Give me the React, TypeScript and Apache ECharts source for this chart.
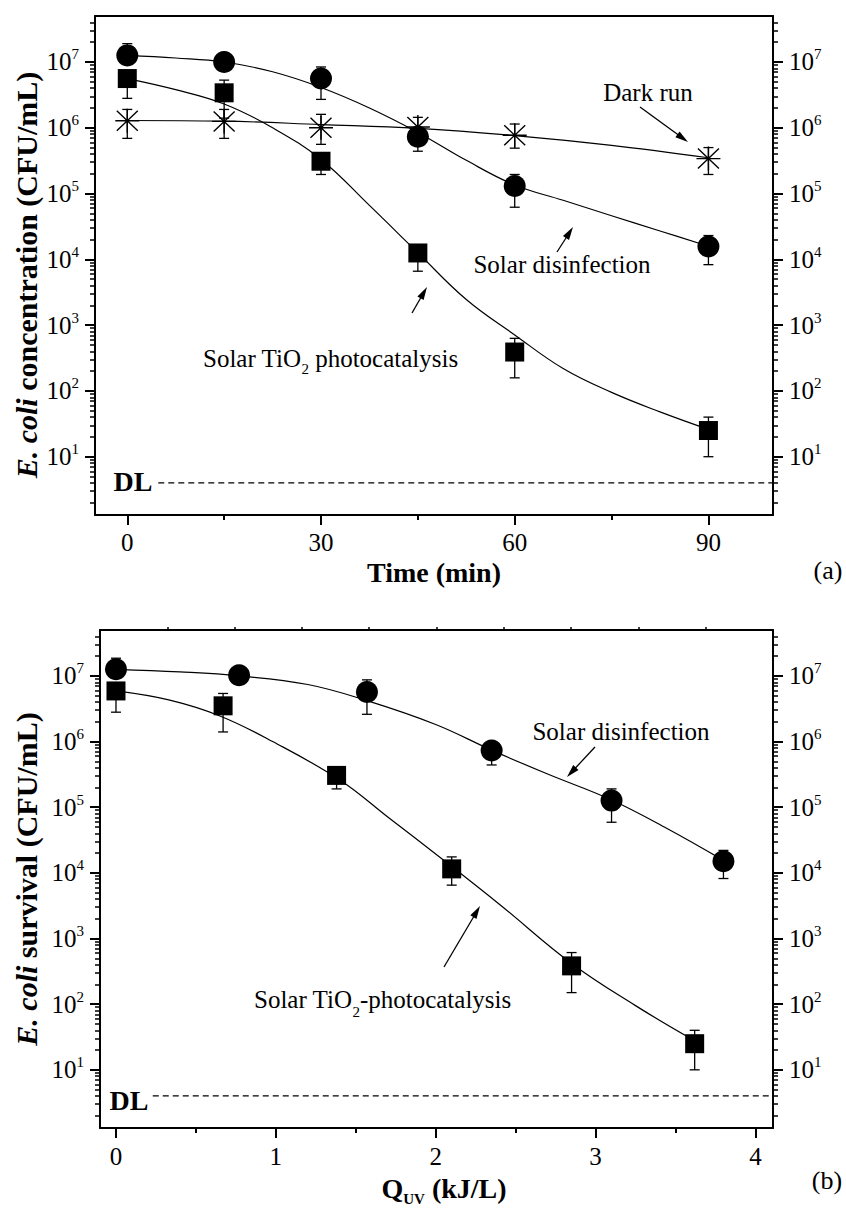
import React, { useEffect, useRef } from "react";
import * as echarts from "echarts";

// ---------- Panel (a): survival vs time ----------
const timeMin = [0, 15, 30, 45, 60, 90];
const sodisA = [1.26e7, 1.0e7, 5.6e6, 7.3e5, 1.3e5, 1.57e4];
const sodisAHi = [1.9e7, 1.1e7, 8.4e6, 8.5e5, 1.95e5, 2.3e4];
const sodisALo = [1.05e7, 0.9e7, 2.7e6, 4.4e5, 6.2e4, 8.3e3];
const photoA = [5.6e6, 3.4e6, 3.1e5, 1.25e4, 390, 25];
const photoAHi = [6.5e6, 5.3e6, 3.5e5, 1.6e4, 630, 40];
const photoALo = [2.8e6, 1.4e6, 1.95e5, 6.6e3, 158, 10];
const darkA = [1.28e6, 1.25e6, 1.0e6, 1.03e6, 7.7e5, 3.4e5];
const darkAHi = [1.9e6, 1.9e6, 1.6e6, 1.44e6, 1.14e6, 5.0e5];
const darkALo = [6.9e5, 6.9e5, 5.6e5, 7.5e5, 4.9e5, 1.95e5];

// fitted curves
const fitTimeA = [0, 7.5, 15, 22.5, 30, 37.5, 45, 52.5, 60, 67.5, 75, 82.5, 90];
const sodisFitA = [1.26e7, 1.15e7, 1.0e7, 7.1e6, 4.1e6, 2.0e6, 8.5e5, 3.2e5, 1.35e5, 7.9e4, 4.6e4, 2.7e4, 1.58e4];
const photoFitA = [5.6e6, 3.8e6, 2.3e6, 1.0e6, 3.3e5, 6.6e4, 1.26e4, 2.45e3, 710, 219, 95, 48, 26];
const darkFitTime = [0, 15, 30, 45, 60, 75, 90];
const darkFitA = [1.29e6, 1.26e6, 1.12e6, 9.8e5, 7.6e5, 5.4e5, 3.5e5];

// ---------- Panel (b): survival vs Q_UV ----------
const qSodis = [0, 0.77, 1.57, 2.35, 3.1, 3.8];
const sodisB = [1.26e7, 1.02e7, 5.7e6, 7.3e5, 1.26e5, 1.5e4];
const sodisBHi = [1.86e7, 1.1e7, 8.7e6, 8.5e5, 1.9e5, 2.2e4];
const sodisBLo = [1.1e7, 0.9e7, 2.6e6, 4.4e5, 5.9e4, 8.2e3];
const qPhoto = [0, 0.67, 1.38, 2.1, 2.85, 3.62];
const photoB = [5.9e6, 3.5e6, 3.05e5, 1.15e4, 383, 25];
const photoBHi = [6.8e6, 5.4e6, 3.4e5, 1.75e4, 611, 40];
const photoBLo = [2.8e6, 1.4e6, 1.9e5, 6.5e3, 150, 10];

const sodisFitQ = [0, 0.4, 0.77, 1.2, 1.57, 2.0, 2.35, 2.7, 3.1, 3.45, 3.8];
const sodisFitB = [1.26e7, 1.15e7, 1.0e7, 7.4e6, 4.2e6, 1.82e6, 7.4e5, 3.2e5, 1.29e5, 4.7e4, 1.55e4];
const photoFitQ = [0, 0.33, 0.65, 0.98, 1.4, 1.7, 2.03, 2.4, 2.85, 3.25, 3.6];
const photoFitB = [5.9e6, 4.3e6, 2.45e6, 1.0e6, 2.6e5, 7.1e4, 1.7e4, 3.3e3, 417, 95, 29.5];

// detection limit
const detectionLimit = 4;
const dlStartA = 4.8;
const dlStartB = 0.23;

// axis ranges / ticks
const yRangeMin = 1.3;
const yRangeMax = 5e7;
const decadeExps = [1, 2, 3, 4, 5, 6, 7];
const timeMajor = [0, 30, 60, 90];
const timeMinor = [15, 45, 75];
const qMajor = [0, 1, 2, 3, 4];
const qMinor = [0.5, 1.5, 2.5, 3.5];
const topTicksB = [1, 2, 3, 4, 5, 6, 7, 8, 9];

const FONT = "Liberation Serif, Times New Roman, serif";
const L = (v: number) => Math.log10(v);
const LOG_MIN = L(yRangeMin);
const LOG_MAX = L(yRangeMax);

const minorLogs: number[] = [];
for (let n = 0; n <= 7; n++) {
  for (let k = 2; k <= 9; k++) {
    const v = n + L(k);
    if (v > LOG_MIN && v < LOG_MAX) minorLogs.push(v);
  }
}

const pts = (xs: number[], ys: number[]) => xs.map((x, i) => [x, L(ys[i])]);
const errs = (xs: number[], lo: number[], hi: number[]) =>
  xs.map((x, i) => [x, L(lo[i]), L(hi[i])]);

const STAR = "path://M0,12L24,12M12,0L12,24M1.5,2L22.5,22M22.5,2L1.5,22";

function App() {
  const ref = useRef<HTMLDivElement>(null);

  useEffect(() => {
    if (!ref.current) return;
    const chart = echarts.init(ref.current, undefined, { renderer: "svg" });

    const black = "#000";
    const labelRich = {
      b: { fontSize: 25, fontFamily: FONT, color: black, lineHeight: 30 },
      s: { fontSize: 15, fontFamily: FONT, color: black, lineHeight: 15, verticalAlign: "top" },
    };

    const xAxisMajor = (grid: number, min: number, max: number, ticks: number[], margin: number) => ({
      type: "value", gridIndex: grid, position: "bottom", min, max,
      axisLine: { show: true, onZero: false, lineStyle: { color: black, width: 2 } },
      axisTick: { show: true, customValues: ticks, length: 10, lineStyle: { color: black, width: 2 } },
      axisLabel: { show: true, customValues: ticks, margin, fontSize: 25, fontFamily: FONT, color: black },
      splitLine: { show: false },
    });
    const xAxisMinor = (grid: number, min: number, max: number, ticks: number[]) => ({
      type: "value", gridIndex: grid, position: "bottom", min, max,
      axisLine: { show: false, onZero: false },
      axisTick: { show: true, customValues: ticks, length: 5, lineStyle: { color: black, width: 2 } },
      axisLabel: { show: false },
      splitLine: { show: false },
    });
    const xAxisTop = (grid: number, min: number, max: number, ticks: number[] | null) => ({
      type: "value", gridIndex: grid, position: "top", min, max,
      axisLine: { show: true, onZero: false, lineStyle: { color: black, width: 2 } },
      axisTick: ticks
        ? { show: true, customValues: ticks, length: 3, lineStyle: { color: black, width: 1.5 } }
        : { show: false },
      axisLabel: { show: false },
      splitLine: { show: false },
    });
    const yMajor = (grid: number, position: string) => ({
      type: "value", gridIndex: grid, position, min: LOG_MIN, max: LOG_MAX,
      axisLine: { show: true, onZero: false, lineStyle: { color: black, width: 2 } },
      axisTick: { show: true, customValues: decadeExps, length: 10, lineStyle: { color: black, width: 2 } },
      axisLabel: {
        show: true, customValues: decadeExps, margin: 16,
        formatter: (v: number) => `{b|10}{s|${Math.round(v)}}`,
        rich: labelRich,
      },
      splitLine: { show: false },
    });
    const yMinor = (grid: number, position: string) => ({
      type: "value", gridIndex: grid, position, min: LOG_MIN, max: LOG_MAX,
      axisLine: { show: false, onZero: false },
      axisTick: { show: true, customValues: minorLogs, length: 5, lineStyle: { color: black, width: 1.5 } },
      axisLabel: { show: false },
      splitLine: { show: false },
    });

    const errSeries = (xi: number, yi: number, data: number[][]) => ({
      type: "custom", xAxisIndex: xi, yAxisIndex: yi, z: 2, silent: true,
      encode: { x: 0, y: [1, 2] },
      data,
      renderItem: (params: any, api: any) => {
        const x = api.value(0);
        const lo = api.coord([x, api.value(1)]);
        const hi = api.coord([x, api.value(2)]);
        const cw = 5;
        const st = { stroke: black, lineWidth: 1.3 };
        return {
          type: "group",
          children: [
            { type: "line", shape: { x1: lo[0], y1: lo[1], x2: hi[0], y2: hi[1] }, style: st },
            { type: "line", shape: { x1: hi[0] - cw, y1: hi[1], x2: hi[0] + cw, y2: hi[1] }, style: st },
            { type: "line", shape: { x1: lo[0] - cw, y1: lo[1], x2: lo[0] + cw, y2: lo[1] }, style: st },
          ],
        };
      },
    });
    const fitSeries = (xi: number, yi: number, data: number[][]) => ({
      type: "line", xAxisIndex: xi, yAxisIndex: yi, z: 3, silent: true,
      data, smooth: 0.4, showSymbol: false, symbol: "none",
      lineStyle: { color: black, width: 1.2, opacity: 1 },
    });
    const markerSeries = (xi: number, yi: number, data: number[][], kind: string) => ({
      type: "scatter", xAxisIndex: xi, yAxisIndex: yi, z: 4, silent: true, data,
      symbol: kind === "star" ? STAR : kind,
      symbolSize: kind === "circle" ? 22 : kind === "rect" ? 19 : 24,
      itemStyle:
        kind === "star"
          ? { color: "transparent", borderColor: black, borderWidth: 1.4, opacity: 1 }
          : { color: black, borderWidth: 0, opacity: 1 },
    });
    const dlSeries = (xi: number, yi: number, x0: number, x1: number) => ({
      type: "line", xAxisIndex: xi, yAxisIndex: yi, z: 1, silent: true,
      data: [[x0, L(detectionLimit)], [x1, L(detectionLimit)]],
      showSymbol: false, symbol: "none",
      lineStyle: { color: black, width: 1.2, type: [6, 4], opacity: 1 },
    });

    const arrow = (x1: number, y1: number, x2: number, y2: number) => {
      const dx = x2 - x1, dy = y2 - y1;
      const len = Math.hypot(dx, dy);
      const ux = dx / len, uy = dy / len;
      const hl = 13, hw = 3.6;
      const bx = x2 - ux * hl, by = y2 - uy * hl;
      return [
        { type: "line", shape: { x1, y1, x2: bx + ux * 2, y2: by + uy * 2 }, style: { stroke: black, lineWidth: 1.3 } },
        {
          type: "polygon",
          shape: { points: [[x2, y2], [bx - uy * hw, by + ux * hw], [bx + uy * hw, by - ux * hw]] },
          style: { fill: black },
        },
      ];
    };
    const txt = (x: number, y: number, text: string, size: number, weight = "normal") => ({
      type: "text", x, y,
      style: {
        text, fontSize: size, fontFamily: FONT, fontWeight: weight, fill: black,
        align: "center", verticalAlign: "middle", textAlign: "center", textVerticalAlign: "middle",
      },
    });
    const richTxt = (x: number, y: number, text: string, rich: any, align = "center", vAlign = "middle", rotation = 0) => ({
      type: "text", x, y, rotation,
      style: {
        text, rich, fill: black, fontFamily: FONT,
        align, verticalAlign: vAlign, textAlign: align, textVerticalAlign: vAlign,
      },
    });

    const annRich = {
      n: { fontSize: 25, fontFamily: FONT, color: black, lineHeight: 25, verticalAlign: "top" },
      s: { fontSize: 15, fontFamily: FONT, color: black, lineHeight: 15, verticalAlign: "top", padding: [16, 0, 0, 0] },
    };
    const annRichB = {
      n: annRich.n,
      s: { ...annRich.s, padding: [18, 0, 0, 0] },
    };
    const yTitleRich = {
      i: { fontSize: 30, fontFamily: FONT, fontWeight: "bold", fontStyle: "italic", color: black },
      b: { fontSize: 30, fontFamily: FONT, fontWeight: "bold", color: black },
    };
    const qRich = {
      n: { fontSize: 28, fontFamily: FONT, fontWeight: "bold", color: black, lineHeight: 28, verticalAlign: "top" },
      s: { fontSize: 15, fontFamily: FONT, fontWeight: "bold", color: black, lineHeight: 14, verticalAlign: "top", padding: [17, 0, 0, 0] },
    };

    const option: any = {
      animation: false,
      backgroundColor: "#fff",
      textStyle: { fontFamily: FONT, color: black },
      grid: [
        { left: 95, top: 16, width: 678, height: 499, containLabel: false, outerBoundsMode: "none" },
        { left: 100, top: 630, width: 673, height: 498, containLabel: false, outerBoundsMode: "none" },
      ],
      xAxis: [
        xAxisMajor(0, -5, 100, timeMajor, 15),
        xAxisMinor(0, -5, 100, timeMinor),
        xAxisTop(0, -5, 100, null),
        xAxisMajor(1, -0.1, 4.11, qMajor, 16),
        xAxisMinor(1, -0.1, 4.11, qMinor),
        xAxisTop(1, 0, 10, topTicksB),
      ],
      yAxis: [
        yMajor(0, "left"),
        yMinor(0, "left"),
        yMajor(0, "right"),
        yMinor(0, "right"),
        yMajor(1, "left"),
        yMinor(1, "left"),
        yMajor(1, "right"),
        yMinor(1, "right"),
      ],
      series: [
        // panel (a)
        dlSeries(0, 0, dlStartA, 100),
        errSeries(0, 0, errs(timeMin, darkALo, darkAHi)),
        errSeries(0, 0, errs(timeMin, photoALo, photoAHi)),
        errSeries(0, 0, errs(timeMin, sodisALo, sodisAHi)),
        fitSeries(0, 0, pts(darkFitTime, darkFitA)),
        fitSeries(0, 0, pts(fitTimeA, photoFitA)),
        fitSeries(0, 0, pts(fitTimeA, sodisFitA)),
        markerSeries(0, 0, pts(timeMin, darkA), "star"),
        markerSeries(0, 0, pts(timeMin, photoA), "rect"),
        markerSeries(0, 0, pts(timeMin, sodisA), "circle"),
        // panel (b)
        dlSeries(3, 4, dlStartB, 4.11),
        errSeries(3, 4, errs(qPhoto, photoBLo, photoBHi)),
        errSeries(3, 4, errs(qSodis, sodisBLo, sodisBHi)),
        fitSeries(3, 4, pts(photoFitQ, photoFitB)),
        fitSeries(3, 4, pts(sodisFitQ, sodisFitB)),
        markerSeries(3, 4, pts(qPhoto, photoB), "rect"),
        markerSeries(3, 4, pts(qSodis, sodisB), "circle"),
      ],
      graphic: [
        // panel (a) texts
        richTxt(26, 275, "{i|E. coli }{b|concentration (CFU/mL)}", yTitleRich, "center", "middle", Math.PI / 2),
        txt(434, 572, "Time (min)", 28, "bold"),
        txt(828, 570, "(a)", 26),
        txt(133, 481, "DL", 28, "bold"),
        txt(648, 92, "Dark run", 25),
        ...arrow(640, 107, 688, 142),
        txt(562, 264, "Solar disinfection", 25),
        ...arrow(557, 252, 573, 227),
        richTxt(203, 358 - 12.5, "{n|Solar TiO}{s|2}{n| photocatalysis}", annRich, "left", "top"),
        ...arrow(412, 313, 427, 287),
        // panel (b) texts
        richTxt(26, 879, "{i|E. coli }{b|survival (CFU/mL)}", yTitleRich, "center", "middle", Math.PI / 2),
        richTxt(444, 1174, "{n|Q}{s|UV}{n| (kJ/L)}", qRich, "center", "top"),
        txt(827, 1180, "(b)", 26),
        txt(129, 1100, "DL", 28, "bold"),
        txt(621, 731, "Solar disinfection", 25),
        ...arrow(595, 747, 567, 777),
        richTxt(254, 999 - 12.5, "{n|Solar TiO}{s|2}{n|-photocatalysis}", annRichB, "left", "top"),
        ...arrow(444, 967, 480, 906),
      ],
    };

    chart.setOption(option);
    return () => chart.dispose();
  }, []);

  return (
    <div
      ref={ref}
      style={{ position: "absolute", left: 0, top: 0, width: 846, height: 1209, background: "#fff" }}
    />
  );
}

export default App;
